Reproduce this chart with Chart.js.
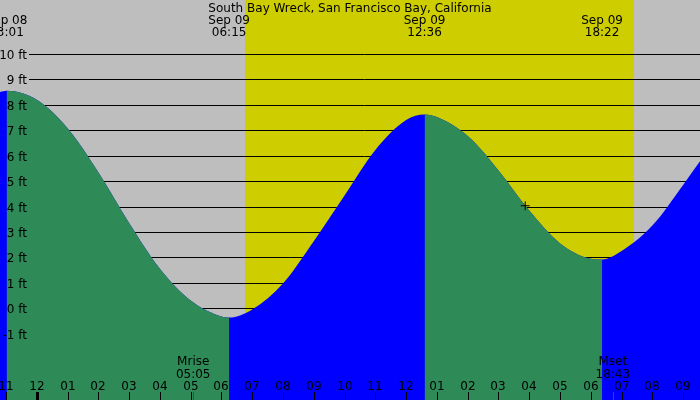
<!DOCTYPE html>
<html>
<head>
<meta charset="utf-8">
<title>South Bay Wreck tide chart</title>
<script src="https://cdn.jsdelivr.net/npm/chart.js@4.4.1/dist/chart.umd.min.js"></script>
<style>
  html, body { margin: 0; padding: 0; background: #bebebe; }
  canvas { display: block; }
</style>
</head>
<body>
<canvas id="tideChart" width="700" height="400"></canvas>
<script>
// Station name shown at the top
const stationName = 'South Bay Wreck, San Francisco Bay, California';

// Tide heights (hours counted from Sep 09 00:00, feet)
const tideHours = [-1.20, -0.98, 0, 1, 2, 3, 4, 5, 6, 6.25, 7, 8, 9, 10, 11, 12, 12.60,
                   13, 14, 15, 16, 17, 18, 18.37, 19, 20, 21, 21.55];
const tideFeet  = [8.50, 8.55, 8.20, 7.08, 5.35, 3.35, 1.55, 0.30, -0.33, -0.37, -0.05, 0.97, 2.63, 4.43, 6.22, 7.40, 7.62,
                   7.52, 6.77, 5.42, 3.84, 2.55, 1.95, 1.92, 2.25, 3.25, 4.85, 5.78];

// High / low tides printed along the top
const extremeDates = ['Sep 08', 'Sep 09', 'Sep 09', 'Sep 09'];
const extremeTimes = ['23:01', '06:15', '12:36', '18:22'];

// Daylight band (hours from Sep 09 00:00)
const sunriseHour = 6.77;
const sunsetHour = 19.39;

// Moon events (Sep 09)
const moonLabels = ['Mrise', 'Mset'];
const moonTimes = ['05:05', '18:43'];

// Hour ticks along the bottom
const hourTicks = [-1, 0, 1, 2, 3, 4, 5, 6, 7, 8, 9, 10, 11, 12, 13, 14, 15, 16, 17, 18, 19, 20, 21];
const hourLabels = ['11', '12', '01', '02', '03', '04', '05', '06', '07', '08', '09', '10', '11',
                    '12', '01', '02', '03', '04', '05', '06', '07', '08', '09'];

// Height grid (feet)
const feetTicks = [-1, 0, 1, 2, 3, 4, 5, 6, 7, 8, 9, 10];

// Cross marker on the curve
const markerHours = [15.87];
const markerFeet = [4.03];

// Colours
const SKY = '#bebebe';
const DAY = '#cdcd00';
const RISING = '#0000ff';
const FALLING = '#2e8b57';
const FONT = '12px "DejaVu Sans", sans-serif';

function toHour(date, time) {
    const [h, m] = time.split(':').map(Number);
    const dayOffset = date === 'Sep 08' ? -24 : 0;
    return dayOffset + h + m / 60;
}

const tidePoints = tideHours.map((h, i) => ({ x: h, y: tideFeet[i] }));
const markerPoints = markerHours.map((h, i) => ({ x: h, y: markerFeet[i] }));

// Background, grid and all the printed text
const tideDecor = {
    id: 'tideDecor',
    beforeDraw(chart) {
        const { ctx, chartArea: a, scales: { x, y } } = chart;
        ctx.save();
        ctx.fillStyle = SKY;
        ctx.fillRect(a.left, a.top, a.right - a.left, a.bottom - a.top);

        const x0 = Math.round(x.getPixelForValue(sunriseHour));
        const x1 = Math.round(x.getPixelForValue(sunsetHour));
        ctx.fillStyle = DAY;
        ctx.fillRect(x0, a.top, x1 - x0, a.bottom - a.top);

        ctx.strokeStyle = '#000';
        ctx.lineWidth = 1;
        feetTicks.forEach(v => {
            const py = Math.round(y.getPixelForValue(v)) + 0.5;
            ctx.beginPath();
            ctx.moveTo(29, py);
            ctx.lineTo(a.right, py);
            ctx.stroke();
        });
        ctx.restore();
    },
    afterDatasetsDraw(chart) {
        const { ctx, chartArea: a, scales: { x, y } } = chart;
        ctx.save();
        ctx.font = FONT;
        ctx.fillStyle = '#000';
        ctx.textBaseline = 'alphabetic';

        // height labels
        ctx.textAlign = 'right';
        feetTicks.forEach(v => {
            ctx.fillText(v + ' ft', 27, Math.round(y.getPixelForValue(v)) + 4.5);
        });

        // title and tide extremes
        ctx.textAlign = 'center';
        ctx.fillText(stationName, (a.left + a.right) / 2, 12);
        extremeTimes.forEach((t, i) => {
            const px = x.getPixelForValue(toHour(extremeDates[i], t));
            ctx.fillText(extremeDates[i], px, 24);
            ctx.fillText(t, px, 36);
        });

        // hour labels and ticks
        hourTicks.forEach((h, i) => {
            const px = Math.round(x.getPixelForValue(h));
            ctx.fillText(hourLabels[i], px, 390);
            ctx.fillRect(h === 0 ? px - 1 : px, 392, h === 0 ? 3 : 1, 8);
        });

        // moon rise / set
        moonTimes.forEach((t, i) => {
            const px = x.getPixelForValue(toHour('Sep 09', t));
            ctx.fillStyle = '#000';
            ctx.fillText(moonLabels[i], px, 365);
            ctx.fillText(t, px, 378);
            ctx.fillStyle = '#ff0000';
            ctx.fillRect(Math.round(px), 392, 1, 8);
        });
        ctx.restore();
    }
};

const tideLine = {
    data: tidePoints,
    fill: 'start',
    borderColor: 'transparent',
    borderWidth: 0,
    pointRadius: 0,
    cubicInterpolationMode: 'monotone'
};

new Chart(document.getElementById('tideChart'), {
    type: 'line',
    data: {
        datasets: [
            {
                type: 'scatter',
                data: markerPoints,
                pointStyle: 'cross',
                pointRadius: 4.5,
                borderColor: '#000',
                borderWidth: 1,
                showLine: false,
                order: 0
            },
            // falling water painted on top of the rising layer, so no seam shows at the turns
            {
                ...tideLine,
                backgroundColor: FALLING,
                segment: {
                    backgroundColor: c => (c.p1.y < c.p0.y ? 'rgba(0,0,0,0)' : FALLING)
                },
                order: 1
            },
            {
                ...tideLine,
                backgroundColor: RISING,
                order: 2
            }
        ]
    },
    options: {
        responsive: false,
        animation: false,
        events: [],
        layout: { padding: 0, autoPadding: false },
        scales: {
            x: { type: 'linear', min: -1.194, max: 21.548, display: false },
            y: { type: 'linear', min: -3.611, max: 12.124, display: false }
        },
        plugins: {
            legend: { display: false },
            tooltip: { enabled: false }
        }
    },
    plugins: [tideDecor]
});
</script>
</body>
</html>
